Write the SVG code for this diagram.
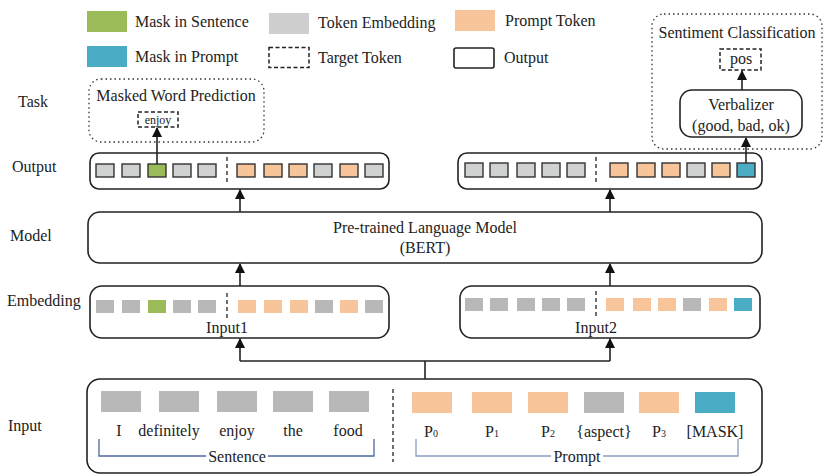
<svg xmlns="http://www.w3.org/2000/svg" width="824" height="476" viewBox="0 0 824 476">
  <defs>
    <marker id="arrow" viewBox="0 0 10 10" refX="9" refY="5" markerWidth="10" markerHeight="10" markerUnits="userSpaceOnUse" orient="auto">
      <path d="M0,0 L10,5 L0,10 z" fill="#111"/>
    </marker>
  </defs>
  <style>
    text { font-family: "Liberation Serif", "Times New Roman", serif; fill: #222; }
    .lbl { font-size: 16px; }
    .mid { text-anchor: middle; }
    .box { fill: #fff; stroke: #222; stroke-width: 1.6; }
    .dotbox { fill: none; stroke: #333; stroke-width: 1.3; stroke-dasharray: 1.5 3; }
    .dash { fill: none; stroke: #222; stroke-width: 1.5; stroke-dasharray: 4 2.5; }
    .sep { stroke: #222; stroke-width: 1.3; stroke-dasharray: 4 3; }
    .wire { fill: none; stroke: #222; stroke-width: 1.6; }
    .og { fill: #D0D1D1; stroke: #333; stroke-width: 1.4; }
    .oo { fill: #F8C59A; stroke: #333; stroke-width: 1.4; }
    .om { fill: #9BBB59; stroke: #333; stroke-width: 1.4; }
    .ob { fill: #4BACC6; stroke: #333; stroke-width: 1.4; }
    .eg { fill: #B8B8B8; }
    .eo { fill: #F8C59A; }
    .em { fill: #9BBB59; }
    .eb { fill: #4BACC6; }
    .brS { fill: none; stroke: #4B67A0; stroke-width: 1.3; }
    .brP { fill: none; stroke: #8A9DC2; stroke-width: 1.3; }
  </style>

  <!-- legend -->
  <g id="legend">
    <rect x="87" y="11" width="40" height="21" fill="#9BBB59"/>
    <text class="lbl" x="135" y="27">Mask in Sentence</text>
    <rect x="87" y="46" width="40" height="21" fill="#4BACC6"/>
    <text class="lbl" x="135" y="62">Mask in Prompt</text>
    <rect x="269" y="13" width="40" height="21" fill="#CFCFCF"/>
    <text class="lbl" x="318" y="28">Token Embedding</text>
    <rect x="269" y="47.5" width="40" height="20" class="dash"/>
    <text class="lbl" x="318" y="63">Target Token</text>
    <rect x="455" y="10" width="40" height="21" fill="#F8C59A"/>
    <text class="lbl" x="505" y="26">Prompt Token</text>
    <rect x="454" y="48" width="40" height="20" rx="2" class="box"/>
    <text class="lbl" x="504" y="63">Output</text>
  </g>

  <!-- row labels -->
  <g id="row-labels">
    <text class="lbl" x="18" y="107">Task</text>
    <text class="lbl" x="12" y="172">Output</text>
    <text class="lbl" x="10" y="241">Model</text>
    <text class="lbl" x="7" y="306">Embedding</text>
    <text class="lbl" x="8" y="431">Input</text>
  </g>

  <!-- task: masked word prediction -->
  <g id="task-mwp">
    <rect x="89" y="79" width="175" height="63" rx="12" class="dotbox"/>
    <text class="lbl mid" x="176" y="101">Masked Word Prediction</text>
    <rect x="138" y="112" width="40" height="15" class="dash"/>
    <text class="mid" x="158" y="124" font-size="12">enjoy</text>
  </g>

  <!-- task: sentiment classification -->
  <g id="task-sc">
    <rect x="652" y="14" width="170" height="135" rx="12" class="dotbox"/>
    <text class="lbl mid" x="737" y="38">Sentiment Classification</text>
    <rect x="720" y="49" width="41" height="21" class="dash"/>
    <text class="lbl mid" x="741" y="64">pos</text>
  </g>
  <g id="verbalizer">
    <rect x="680" y="90" width="122" height="47" rx="12" class="box"/>
    <text class="lbl mid" x="741" y="110">Verbalizer</text>
    <text class="lbl mid" x="741" y="131">(good, bad, ok)</text>
  </g>

  <!-- output 1 -->
  <g id="output1">
    <rect x="90" y="153" width="299" height="36" rx="9" class="box"/>
    <rect x="96" y="164" width="18" height="13" class="og"/>
    <rect x="122" y="164" width="18" height="13" class="og"/>
    <rect x="148" y="164" width="18" height="13" class="om"/>
    <rect x="173" y="164" width="18" height="13" class="og"/>
    <rect x="198" y="164" width="18" height="13" class="og"/>
    <line x1="227" y1="157" x2="227" y2="185" class="sep"/>
    <rect x="237" y="164" width="18" height="13" class="oo"/>
    <rect x="264" y="164" width="18" height="13" class="oo"/>
    <rect x="289" y="164" width="18" height="13" class="oo"/>
    <rect x="314" y="164" width="18" height="13" class="og"/>
    <rect x="340" y="164" width="18" height="13" class="oo"/>
    <rect x="365" y="164" width="18" height="13" class="og"/>
  </g>

  <!-- output 2 -->
  <g id="output2">
    <rect x="458" y="153" width="304" height="36" rx="9" class="box"/>
    <rect x="465" y="163" width="18" height="14" class="og"/>
    <rect x="490" y="163" width="18" height="14" class="og"/>
    <rect x="517" y="163" width="18" height="14" class="og"/>
    <rect x="542" y="163" width="18" height="14" class="og"/>
    <rect x="567" y="163" width="18" height="14" class="og"/>
    <line x1="596" y1="157" x2="596" y2="185" class="sep"/>
    <rect x="610" y="163" width="18" height="14" class="oo"/>
    <rect x="637" y="163" width="18" height="14" class="oo"/>
    <rect x="662" y="163" width="18" height="14" class="oo"/>
    <rect x="687" y="163" width="18" height="14" class="og"/>
    <rect x="712" y="163" width="18" height="14" class="oo"/>
    <rect x="737" y="163" width="18" height="14" class="ob"/>
  </g>

  <!-- model -->
  <g id="model">
    <rect x="88" y="212" width="674" height="51" rx="12" class="box"/>
    <text class="lbl mid" x="425" y="233">Pre-trained Language Model</text>
    <text class="lbl mid" x="425" y="253">(BERT)</text>
  </g>

  <!-- embedding 1 -->
  <g id="embedding1">
    <rect x="90" y="286" width="299" height="52" rx="12" class="box"/>
    <rect x="96" y="300" width="18" height="13" class="eg"/>
    <rect x="122" y="300" width="18" height="13" class="eg"/>
    <rect x="148" y="300" width="18" height="13" class="em"/>
    <rect x="173" y="300" width="18" height="13" class="eg"/>
    <rect x="198" y="300" width="18" height="13" class="eg"/>
    <line x1="227" y1="293" x2="227" y2="318" class="sep"/>
    <rect x="238" y="300" width="18" height="13" class="eo"/>
    <rect x="264" y="300" width="18" height="13" class="eo"/>
    <rect x="290" y="300" width="18" height="13" class="eo"/>
    <rect x="315" y="300" width="18" height="13" class="eg"/>
    <rect x="340" y="300" width="18" height="13" class="eo"/>
    <rect x="365" y="300" width="18" height="13" class="eg"/>
    <text class="lbl mid" x="227" y="333">Input1</text>
  </g>

  <!-- embedding 2 -->
  <g id="embedding2">
    <rect x="460" y="286" width="300" height="52" rx="12" class="box"/>
    <rect x="465" y="298" width="18" height="13" class="eg"/>
    <rect x="490" y="298" width="18" height="13" class="eg"/>
    <rect x="517" y="298" width="18" height="13" class="eg"/>
    <rect x="542" y="298" width="18" height="13" class="eg"/>
    <rect x="567" y="298" width="18" height="13" class="eg"/>
    <line x1="596" y1="291" x2="596" y2="318" class="sep"/>
    <rect x="606" y="298" width="18" height="13" class="eo"/>
    <rect x="633" y="298" width="18" height="13" class="eo"/>
    <rect x="658" y="298" width="18" height="13" class="eo"/>
    <rect x="683" y="298" width="18" height="13" class="eg"/>
    <rect x="709" y="298" width="18" height="13" class="eo"/>
    <rect x="734" y="298" width="18" height="13" class="eb"/>
    <text class="lbl mid" x="596" y="333">Input2</text>
  </g>

  <!-- input -->
  <g id="input">
    <rect x="87" y="379" width="675" height="94" rx="13" class="box"/>
    <rect x="101" y="391" width="40" height="21" class="eg"/>
    <rect x="159" y="391" width="40" height="21" class="eg"/>
    <rect x="217" y="391" width="40" height="21" class="eg"/>
    <rect x="273" y="391" width="40" height="21" class="eg"/>
    <rect x="329" y="391" width="40" height="21" class="eg"/>
    <line x1="393" y1="389" x2="393" y2="462" class="sep"/>
    <rect x="412" y="392" width="40" height="21" class="eo"/>
    <rect x="472" y="392" width="40" height="21" class="eo"/>
    <rect x="528" y="392" width="40" height="21" class="eo"/>
    <rect x="584" y="392" width="40" height="21" class="eg"/>
    <rect x="639" y="392" width="40" height="21" class="eo"/>
    <rect x="695" y="392" width="40" height="21" class="eb"/>

    <text class="lbl mid" x="119" y="436">I</text>
    <text class="lbl mid" x="169" y="436">definitely</text>
    <text class="lbl mid" x="237" y="436">enjoy</text>
    <text class="lbl mid" x="293" y="436">the</text>
    <text class="lbl mid" x="348" y="436">food</text>

    <text class="lbl" x="424" y="437">P<tspan font-size="10">0</tspan></text>
    <text class="lbl" x="485" y="437">P<tspan font-size="10">1</tspan></text>
    <text class="lbl" x="541" y="437">P<tspan font-size="10">2</tspan></text>
    <text class="lbl mid" x="604" y="437">{aspect}</text>
    <text class="lbl" x="652" y="437">P<tspan font-size="10">3</tspan></text>
    <text class="lbl mid" x="715" y="437">[MASK]</text>

    <path d="M99,439 V456 H206 M268,456 H374 V439" class="brS"/>
    <text class="lbl mid" x="237" y="462">Sentence</text>
    <path d="M416,439 V456 H551 M603,456 H738 V439" class="brP"/>
    <text class="lbl mid" x="577" y="462">Prompt</text>
  </g>

  <!-- connectors -->
  <g id="connectors">
    <path d="M425,379 V361" class="wire"/>
    <path d="M240,361 H610" class="wire"/>
    <path d="M240,361 V339" class="wire" marker-end="url(#arrow)"/>
    <path d="M610,361 V339" class="wire" marker-end="url(#arrow)"/>
    <path d="M240,286 V264" class="wire" marker-end="url(#arrow)"/>
    <path d="M610,286 V264" class="wire" marker-end="url(#arrow)"/>
    <path d="M240,212 V190" class="wire" marker-end="url(#arrow)"/>
    <path d="M610,212 V190" class="wire" marker-end="url(#arrow)"/>
    <path d="M157,164 V128" class="wire" marker-end="url(#arrow)"/>
    <path d="M746,163 V138" class="wire" marker-end="url(#arrow)"/>
    <path d="M742,90 V71" class="wire" marker-end="url(#arrow)"/>
  </g>
</svg>
